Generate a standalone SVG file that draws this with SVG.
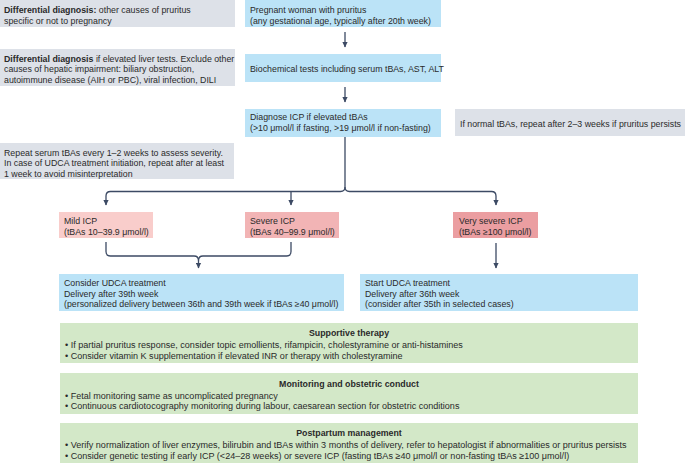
<svg xmlns="http://www.w3.org/2000/svg" width="685" height="463" viewBox="0 0 685 463">
<defs>
<style>
text{font-family:"Liberation Sans",Arial,sans-serif;font-size:8.8px;fill:#2a2a2a}
.b{font-weight:bold}
.t{font-weight:bold;text-anchor:middle}
.g{font-size:9.05px}
.gray{fill:#dde1e8}
.blue{fill:#bbe3f7}
.mild{fill:#f9cdcb}
.sev{fill:#f2b4b5}
.vsev{fill:#eb9ea1}
.green{fill:#d3e8c8}
.con{fill:none;stroke:#3c4a64;stroke-width:1.3}
</style>
<marker id="arr" markerUnits="userSpaceOnUse" markerWidth="6" markerHeight="6" refX="5" refY="3" orient="auto" viewBox="0 0 6 6">
<path d="M0,0.4 L5.5,3 L0,5.6 Z" fill="#3c4a64"/>
</marker>
</defs>

<g id="diff1">
<rect class="gray" x="0" y="0" width="235" height="27"/>
<text x="4" y="13.2"><tspan class="b">Differential diagnosis:</tspan> other causes of pruritus</text>
<text x="4" y="23.5">specific or not to pregnancy</text>
</g>

<g id="diff2">
<rect class="gray" x="0" y="49" width="235" height="37"/>
<text x="4" y="61.5"><tspan class="b">Differential diagnosis</tspan> if elevated liver tests. Exclude other</text>
<text x="4" y="72">causes of hepatic impairment: biliary obstruction,</text>
<text x="4" y="82.5">autoimmune disease  (AIH or PBC), viral infection, DILI</text>
</g>

<g id="pregnant">
<rect class="blue" x="245" y="0" width="196" height="27"/>
<text x="250" y="13.2">Pregnant woman with pruritus</text>
<text x="250" y="23.5">(any gestational age, typically after 20th week)</text>
</g>

<g id="biochem">
<rect class="blue" x="245" y="54" width="196" height="28"/>
<text x="250" y="71.5">Biochemical tests including serum tBAs, AST, ALT</text>
</g>

<g id="diagnose">
<rect class="blue" x="245" y="109" width="196" height="28"/>
<text x="250" y="120">Diagnose ICP if elevated tBAs</text>
<text x="250" y="130.8">(&gt;10 μmol/l if fasting, &gt;19 μmol/l if non-fasting)</text>
</g>

<g id="normal">
<rect class="gray" x="455" y="109" width="230" height="27"/>
<text x="460" y="127">If normal tBAs, repeat after 2–3 weeks if pruritus persists</text>
</g>

<g id="repeat">
<rect class="gray" x="0" y="143" width="234" height="36"/>
<text x="4" y="155.5">Repeat serum tBAs every 1–2 weeks to assess severity.</text>
<text x="4" y="166">In case of UDCA treatment initiation, repeat after at least</text>
<text x="4" y="176.5">1 week to avoid misinterpretation</text>
</g>

<g id="mild">
<rect class="mild" x="59" y="212" width="94" height="26"/>
<text x="64" y="223.8">Mild ICP</text>
<text x="64" y="234.5">(tBAs 10–39.9 μmol/l)</text>
</g>

<g id="severe">
<rect class="sev" x="245" y="212" width="94" height="26"/>
<text x="250" y="223.8">Severe ICP</text>
<text x="250" y="234.5">(tBAs 40–99.9 μmol/l)</text>
</g>

<g id="verysevere">
<rect class="vsev" x="453" y="212" width="85" height="26"/>
<text x="459" y="223.8">Very severe ICP</text>
<text x="459" y="234.5">(tBAs ≥100 μmol/l)</text>
</g>

<g id="consider">
<rect class="blue" x="59" y="274" width="285" height="37"/>
<text x="64" y="286">Consider UDCA treatment</text>
<text x="64" y="296.5">Delivery after 39th week</text>
<text x="64" y="307">(personalized delivery between 36th and 39th week if tBAs ≥40 μmol/l)</text>
</g>

<g id="start">
<rect class="blue" x="360" y="274" width="278" height="37"/>
<text x="365" y="286">Start UDCA treatment</text>
<text x="365" y="296.5">Delivery after 36th week</text>
<text x="365" y="307">(consider after 35th in selected cases)</text>
</g>

<g id="supportive">
<rect class="green" x="60" y="323" width="578" height="40"/>
<text class="t" x="349" y="336">Supportive therapy</text>
<text class="g" x="65" y="348">• If partial pruritus response, consider topic emollients, rifampicin, cholestyramine or anti-histamines</text>
<text class="g" x="65" y="358.5">• Consider vitamin K supplementation if elevated INR or therapy with cholestyramine</text>
</g>

<g id="monitoring">
<rect class="green" x="60" y="373" width="578" height="41"/>
<text class="t" x="349" y="386.5">Monitoring and obstetric conduct</text>
<text class="g" x="65" y="398.5">• Fetal monitoring same as uncomplicated pregnancy</text>
<text class="g" x="65" y="409">• Continuous cardiotocography monitoring during labour, caesarean section for obstetric conditions</text>
</g>

<g id="postpartum">
<rect class="green" x="60" y="423" width="578" height="40"/>
<text class="t" x="349" y="436">Postpartum management</text>
<text class="g" x="65" y="448.3">• Verify normalization of liver enzymes, bilirubin and tBAs within 3 months of delivery, refer to hepatologist if abnormalities or pruritus persists</text>
<text class="g" x="65" y="458.5">• Consider genetic testing if early ICP (&lt;24–28 weeks) or severe ICP (fasting tBAs ≥40 μmol/l or non-fasting tBAs ≥100 μmol/l)</text>
</g>

<g id="connectors">
<path class="con" d="M345,32 L345,47" marker-end="url(#arr)"/>
<path class="con" d="M345,87 L345,102" marker-end="url(#arr)"/>
<path class="con" d="M345,137 L345,187 Q345,191.5 340.5,191.5 L110.5,191.5 Q106,191.5 106,196 L106,205" marker-end="url(#arr)"/>
<path class="con" d="M345,187 Q345,191.5 349.5,191.5 L491.5,191.5 Q496,191.5 496,196 L496,205" marker-end="url(#arr)"/>
<path class="con" d="M291,191.5 L291,205" marker-end="url(#arr)"/>
<path class="con" d="M106,242 L106,251.5 Q106,256 110.5,256 L194,256 Q198.5,256 198.5,260.5 L198.5,268" marker-end="url(#arr)"/>
<path class="con" d="M291,242 L291,251.5 Q291,256 286.5,256 L203,256 Q198.5,256 198.5,260.5"/>
<path class="con" d="M496,243 L496,268" marker-end="url(#arr)"/>
</g>
</svg>
